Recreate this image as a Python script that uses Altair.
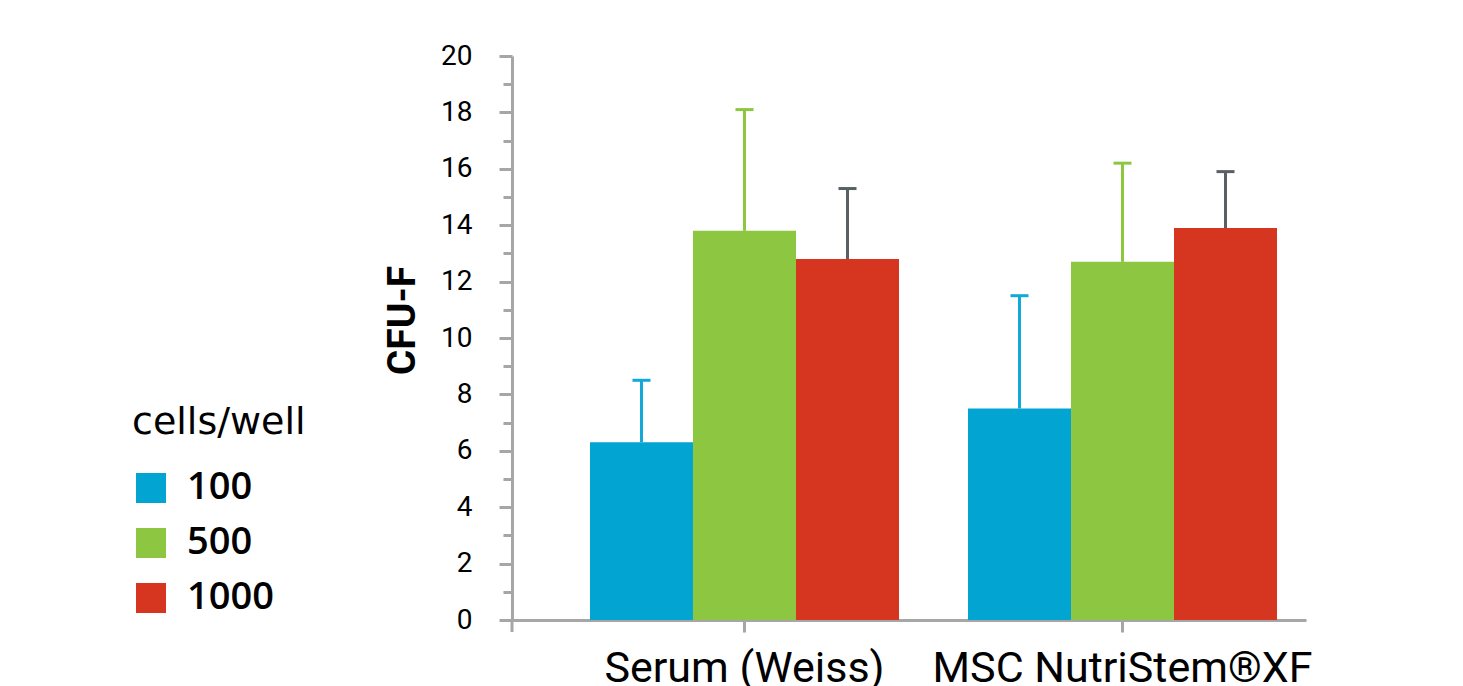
import altair as alt
import pandas as pd

groups = ["Serum (Weiss)", "MSC NutriStem®XF"]
cells = ["100", "500", "1000"]
serum_mean = [6.3, 13.8, 12.8]
serum_upper = [8.5, 18.1, 15.3]
nutri_mean = [7.5, 12.7, 13.9]
nutri_upper = [11.5, 16.2, 15.9]
bar_colors = ["#02A5D2", "#8DC641", "#D63620"]
err_colors = ["#12A9DA", "#8DC641", "#586063"]
y_ticks = list(range(0, 21))

rows = []
for g, means, uppers in [(groups[0], serum_mean, serum_upper), (groups[1], nutri_mean, nutri_upper)]:
    for c, m, u, ec in zip(cells, means, uppers, err_colors):
        rows.append({"group": g, "cells": c, "mean": m, "upper": u, "ecolor": ec})
df = pd.DataFrame(rows)

W, H = 794, 564
AX = "#A6A6A6"

xscale = alt.Scale(paddingInner=0.1825, paddingOuter=0.1415, align=0.729)
x = alt.X("group:N", sort=groups, scale=xscale,
          axis=alt.Axis(title=None, labelFont="Roboto", labelFontSize=43, labelFontWeight="normal",
                        labelColor="black", labelPadding=15, labelAngle=0, labelLimit=0,
                        tickSize=12, tickWidth=3,
                        tickColor=AX, domainColor=AX, domainWidth=3, grid=False))
xo = alt.XOffset("cells:N", sort=cells, scale=alt.Scale(paddingInner=0, paddingOuter=0))

yaxis = alt.Axis(values=y_ticks, title="CFU-F", titleFont="Roboto", titleFontSize=39,
                 titleFontWeight="bold", titleColor="black", titlePadding=18, titleY=264,
                 labelFont="Roboto", labelFontSize=28, labelColor="black", labelPadding=27,
                 labelExpr="datum.value % 2 ? '' : datum.label",
                 tickSize={"condition": {"test": "datum.value % 2 === 1", "value": 9}, "value": 13},
                 tickWidth=3, tickColor=AX, domainColor=AX, domainWidth=3, grid=False)
yscale = alt.Scale(domain=[0, 20], nice=False)

bars = alt.Chart(df).mark_bar().encode(
    x=x, xOffset=xo,
    y=alt.Y("mean:Q", scale=yscale, axis=yaxis),
    color=alt.Color("cells:N", sort=cells, scale=alt.Scale(domain=cells, range=bar_colors),
                    legend=alt.Legend(title="cells/well", orient="none", legendX=-380, legendY=348,
                                      direction="vertical", padding=0,
                                      titleFont="DejaVu Sans", titleFontSize=38, titleFontWeight="normal",
                                      titleColor="black", titlePadding=27,
                                      labelFont="Open Sans", labelFontSize=38, labelFontWeight=600,
                                      labelColor="black",
                                      labelOffset=17, rowPadding=17,
                                      symbolType="square", symbolSize=900, symbolStrokeWidth=0,
                                      symbolOpacity=1)),
)

err_rule = alt.Chart(df).mark_rule(strokeWidth=3).encode(
    x=x, xOffset=xo,
    y=alt.Y("mean:Q", scale=yscale, axis=yaxis), y2="upper:Q",
    color=alt.Color("ecolor:N", scale=None),
)

err_cap = alt.Chart(df).mark_tick(thickness=3, size=18, opacity=1).encode(
    x=x, xOffset=xo,
    y=alt.Y("upper:Q", scale=yscale, axis=yaxis),
    color=alt.Color("ecolor:N", scale=None),
)

end_tick = alt.Chart(pd.DataFrame({"k": [0]})).mark_rule(color=AX, strokeWidth=3).encode(
    x=alt.value(0), y=alt.value(H), y2=alt.value(H + 12)
)

chart = alt.layer(bars, err_rule, err_cap, end_tick).resolve_scale(color="independent").properties(
    width=W, height=H,
    autosize=alt.AutoSizeParams(type="none"),
    padding={"left": 504, "top": 48, "right": 140, "bottom": 66},
    background="white",
).configure_view(stroke=None)

chart.save("out.html", embed_options={"renderer": "svg", "actions": False})
